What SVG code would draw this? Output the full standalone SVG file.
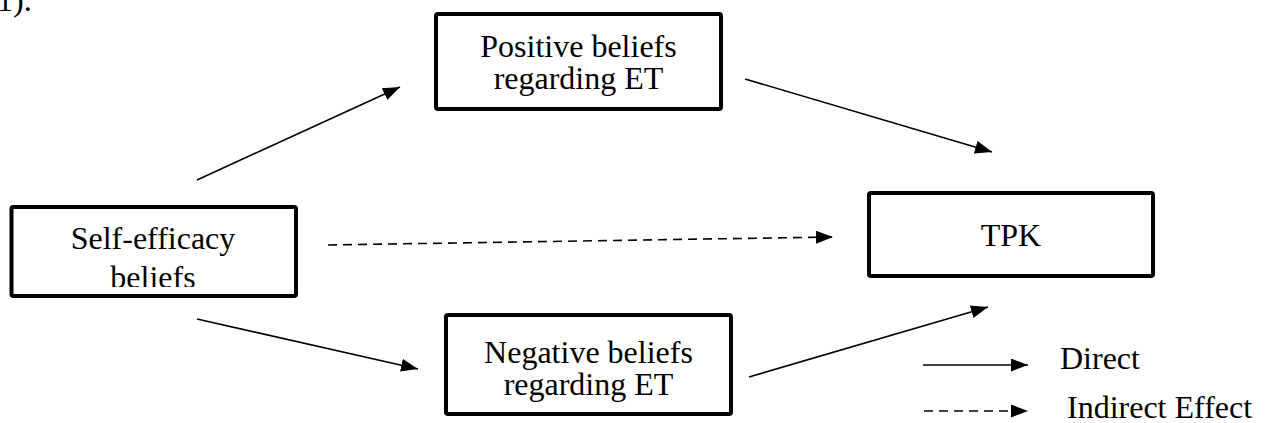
<svg xmlns="http://www.w3.org/2000/svg" width="1266" height="423" viewBox="0 0 1266 423">
<style>
.box{fill:#fff;stroke:#000;stroke-width:4;}
.t{font-family:'Liberation Serif';font-size:32px;fill:#000;}
.c{text-anchor:middle;}
.ln{stroke:#000;stroke-width:1.6;fill:none;}
.dash{stroke-dasharray:9 6;}
</style>
<defs>
<marker id="ah" markerUnits="userSpaceOnUse" markerWidth="18" markerHeight="14" refX="17" refY="6.5" orient="auto">
<path d="M0,0 L17,6.5 L0,13 z" fill="#000"/>
</marker>
<clipPath id="clipSelf"><rect x="13" y="209" width="281" height="78"/></clipPath>
</defs>
<rect width="1266" height="423" fill="#fff"/>
<text class="t" x="-3" y="11">1).</text>
<g id="connectors">
<line class="ln" x1="197" y1="180" x2="400" y2="87" marker-end="url(#ah)"/>
<line class="ln" x1="745" y1="79" x2="992" y2="152" marker-end="url(#ah)"/>
<line class="ln" x1="197" y1="319" x2="418" y2="369" marker-end="url(#ah)"/>
<line class="ln" x1="749" y1="377" x2="988" y2="307" marker-end="url(#ah)"/>
<line class="ln dash" x1="328" y1="245" x2="833" y2="237" marker-end="url(#ah)"/>
</g>
<g id="node-self">
<rect class="box" x="11.5" y="207" width="284.5" height="89" rx="2"/>
<g clip-path="url(#clipSelf)">
<text class="t c" x="153" y="249">Self-efficacy</text>
<text class="t c" x="153" y="288">beliefs</text>
</g>
</g>
<g id="node-positive">
<rect class="box" x="436" y="14" width="285" height="95" rx="2"/>
<text class="t c" x="578.5" y="57">Positive beliefs</text>
<text class="t c" x="578.5" y="89">regarding ET</text>
</g>
<g id="node-negative">
<rect class="box" x="446" y="315" width="285" height="99" rx="2"/>
<text class="t c" x="588.5" y="363">Negative beliefs</text>
<text class="t c" x="588.5" y="395">regarding ET</text>
</g>
<g id="node-tpk">
<rect class="box" x="869" y="193" width="284" height="83" rx="2"/>
<text class="t c" x="1011" y="246">TPK</text>
</g>
<g id="legend">
<line class="ln" x1="923" y1="365" x2="1028" y2="365" marker-end="url(#ah)"/>
<text class="t" x="1060" y="369">Direct</text>
<line class="ln dash" x1="924" y1="411" x2="1028" y2="411" marker-end="url(#ah)"/>
<text class="t" x="1067" y="418">Indirect Effect</text>
</g>
</svg>
